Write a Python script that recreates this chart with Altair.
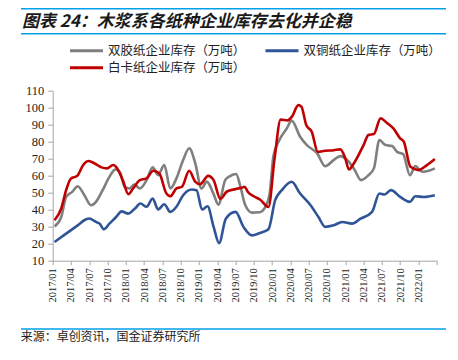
import altair as alt
import pandas as pd

title_text = "图表 24：木浆系各纸种企业库存去化并企稳"
source_text = "来源：卓创资讯，国金证券研究所"
# order chosen so the column-major legend reads: row 1 gray, blue; row 2 red
series_names = ["双胶纸企业库存（万吨）", "白卡纸企业库存（万吨）", "双铜纸企业库存（万吨）"]
series_colors = ["#7f7f7f", "#c00000", "#2f5597"]
tick_labels = ["2017/01", "2017/04", "2017/07", "2017/10", "2018/01", "2018/04", "2018/07",
               "2018/10", "2019/01", "2019/04", "2019/07", "2019/10", "2020/01", "2020/04",
               "2020/07", "2020/10", "2021/01", "2021/04", "2021/07", "2021/10", "2022/01"]

# month index since 2017/01 (fractional) and value, per series
gray_m = [0.3, 1.4, 2.2, 3.2, 4.1, 5.2, 6.3, 7.1, 8.2, 9.3, 10.3, 11.0, 11.8, 12.6, 13.4, 14.3,
          15.4, 16.4, 17.3, 18.3, 19.3, 20.3, 21.4, 22.4, 23.4, 24.4, 25.3, 26.3, 27.2, 28.3,
          29.1, 30.1, 30.8, 31.6, 32.7, 33.9, 34.9, 35.6, 36.2, 37.2, 38.4, 39.2, 40.6, 41.7,
          43.4, 44.7, 46.1, 47.2, 48.3, 49.4, 50.6, 51.8, 52.7, 53.6, 54.6, 55.7, 56.5, 57.5,
          58.6, 59.5, 60.6, 61.7, 62.7]
gray_v = [30.2, 35.7, 47.5, 50.5, 53.8, 48.5, 42.6, 44.6, 51.5, 59.3, 63.7, 62.3, 53.5, 52.5,
          54.8, 52.5, 57.4, 64.9, 60.3, 66.3, 52.5, 58.4, 69.2, 76.1, 67.2, 52.5, 56.5, 50.0,
          43.0, 57.4, 59.8, 61.0, 53.5, 42.6, 38.3, 38.5, 41.7, 49.5, 71.1, 81.0, 87.8, 92.4,
          82.9, 78.0, 73.1, 65.6, 69.2, 71.5, 69.2, 64.3, 57.4, 60.3, 64.3, 81.0, 78.0, 77.4,
          74.0, 72.7, 60.3, 65.6, 62.3, 62.9, 64.3]

blue_m = [0.3, 2.2, 4.1, 5.4, 6.0, 7.1, 7.7, 8.4, 9.3, 10.4, 11.3, 12.4, 13.5, 14.4, 15.4, 16.4,
          17.3, 18.3, 19.3, 20.3, 21.4, 22.8, 23.6, 24.5, 25.4, 26.4, 27.3, 28.4, 30.0, 31.3,
          32.7, 34.0, 35.4, 36.5, 37.6, 39.2, 40.6, 42.3, 43.6, 44.7, 46.1, 47.5, 49.1, 50.5,
          52.4, 53.6, 54.4, 55.5, 57.0, 58.6, 59.5, 60.9, 62.7]
blue_v = [21.0, 25.9, 30.8, 34.2, 34.8, 32.8, 31.8, 28.5, 31.8, 35.7, 39.0, 37.7, 40.7, 43.6,
          41.7, 46.6, 40.1, 43.2, 38.7, 41.7, 48.5, 51.9, 51.5, 40.1, 42.0, 29.9, 20.3, 34.7,
          38.7, 29.9, 24.9, 26.3, 28.5, 45.6, 51.5, 56.4, 49.5, 42.6, 35.7, 29.9, 30.8, 32.8,
          31.8, 34.7, 38.7, 49.5, 48.9, 51.5, 47.5, 44.6, 47.9, 47.5, 48.5]

red_m = [0.3, 1.4, 2.2, 3.0, 4.0, 5.0, 5.9, 6.9, 8.0, 8.9, 9.9, 10.4, 11.5, 12.4, 13.2, 14.3,
         15.4, 16.5, 17.5, 18.6, 19.3, 20.3, 21.2, 22.4, 23.4, 24.2, 25.5, 26.4, 27.5, 28.6,
         30.0, 31.0, 31.5, 32.0, 33.0, 34.0, 35.4, 36.4, 37.4, 38.5, 39.3, 40.3, 40.8, 41.6,
         42.5, 43.5, 44.4, 46.1, 47.2, 48.0, 48.6, 49.4, 51.0, 51.8, 52.7, 53.8, 54.8, 55.9,
         57.0, 57.6, 58.7, 60.0, 61.4, 62.7]
red_v = [33.8, 40.7, 51.5, 58.4, 59.8, 66.3, 68.6, 67.2, 64.9, 64.3, 66.3, 65.2, 57.4, 49.1,
         52.5, 57.4, 58.4, 62.9, 61.3, 49.9, 47.9, 52.5, 53.5, 62.9, 56.4, 55.0, 59.9, 57.4,
         46.4, 50.7, 52.1, 52.9, 53.5, 50.5, 47.9, 46.0, 41.6, 70.0, 93.0, 92.5, 95.0, 101.5,
         100.6, 89.8, 85.9, 74.0, 74.5, 75.0, 75.5, 70.2, 63.7, 67.2, 78.0, 84.0, 84.5, 93.7,
         91.2, 87.8, 82.0, 80.0, 65.2, 63.3, 66.2, 69.8]

rows = []
for name, ms, vs in zip(["双胶纸企业库存（万吨）", "双铜纸企业库存（万吨）", "白卡纸企业库存（万吨）"],
                        [gray_m, blue_m, red_m], [gray_v, blue_v, red_v]):
    for m, v in zip(ms, vs):
        rows.append({"series": name, "m": m, "v": v})
df = pd.DataFrame(rows)

label_expr = "[" + ",".join("'" + t + "'" for t in tick_labels) + "][datum.value/3] || ''"

AXIS_COLOR = "#a6a6a6"
SERIF = "Liberation Serif"
CJK = "Noto Sans CJK SC"

lines = alt.Chart(df).mark_line(strokeWidth=2.6, interpolate="monotone").encode(
    x=alt.X("m:Q",
            scale=alt.Scale(domain=[0, 63], nice=False, zero=False),
            axis=alt.Axis(values=list(range(0, 64, 3)), labelExpr=label_expr, labelAngle=-90,
                          title=None, grid=False, domainColor=AXIS_COLOR, tickColor=AXIS_COLOR,
                          tickSize=4, labelPadding=3, labelFont=SERIF, labelFontSize=10.5,
                          labelColor="#222222", labelOverlap=False, labelBound=False)),
    y=alt.Y("v:Q",
            scale=alt.Scale(domain=[10, 110], nice=False, zero=False),
            axis=alt.Axis(values=list(range(10, 111, 10)), title=None, grid=False,
                          domainColor=AXIS_COLOR, tickColor=AXIS_COLOR, tickSize=5,
                          labelPadding=4, labelFont=SERIF, labelFontSize=12.5,
                          labelColor="#222222")),
    color=alt.Color("series:N",
                    scale=alt.Scale(domain=series_names, range=series_colors),
                    legend=alt.Legend(title=None, orient="none", legendX=27.3, legendY=-46.4,
                                      columns=2, columnPadding=13.5, rowPadding=4,
                                      symbolType="M-3.3,0H3.3", symbolSize=100,
                                      symbolStrokeWidth=3, labelOffset=15,
                                      labelFont=CJK, labelFontSize=12.5, labelColor="#222222",
                                      padding=0, labelLimit=300)),
)

one = pd.DataFrame({"a": [0]})
RULE_BLUE = "#00a0e9"

def hrule(ypos):
    return alt.Chart(one).mark_rule(color=RULE_BLUE, strokeWidth=1.5).encode(
        x=alt.value(-31.7), x2=alt.value(393.3), y=alt.value(ypos))

title_df = pd.DataFrame({"t": [title_text]})
title_mark = alt.Chart(title_df).mark_text(
    align="left", baseline="alphabetic", font=CJK, fontSize=17, fontWeight="bold",
    fontStyle="italic", color="#1a1a1a").encode(
    text="t:N", x=alt.value(-30.7), y=alt.value(-64))

src_df = pd.DataFrame({"t": [source_text]})
src_mark = alt.Chart(src_df).mark_text(
    align="left", baseline="alphabetic", font=CJK, fontSize=12, color="#222222").encode(
    text="t:N", x=alt.value(-32), y=alt.value(250.5))

chart = alt.layer(lines, hrule(-82.0), hrule(-57), hrule(238.3), title_mark, src_mark).properties(
    width=384, height=170,
    autosize=alt.AutoSizeParams(type="none"),
    padding={"left": 44.7, "top": 82.7, "right": 13, "bottom": 91},
).configure_view(stroke=None)

chart.save("out.html", embed_options={"renderer": "svg", "actions": False})
